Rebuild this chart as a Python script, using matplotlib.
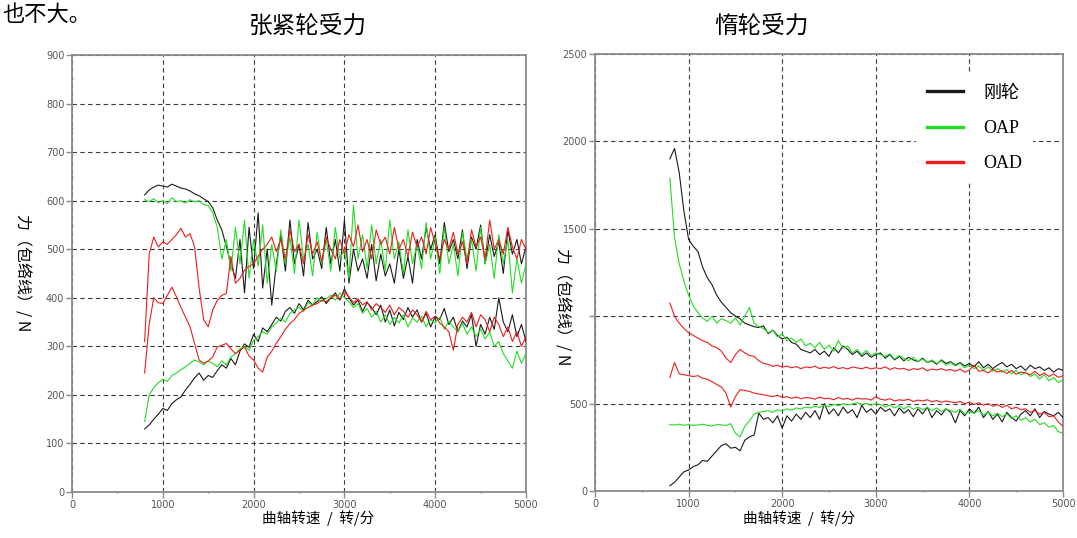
import numpy as np
import matplotlib
matplotlib.use("Agg")
import matplotlib.pyplot as plt
from matplotlib.ticker import MultipleLocator, FixedLocator
from matplotlib.lines import Line2D

plt.rcParams['font.family'] = ['DejaVu Sans', 'Noto Sans CJK SC']

# ---------------- data ----------------
rpm = np.arange(800, 5001, 50)  # shared speed grid (rev/min)

# Tensioner pulley force (left chart), upper / lower envelopes
tens_rigid_up = [612, 622, 628, 632, 630, 628, 634, 630, 626, 624, 620, 614, 610, 604, 598,
                 585, 560, 540, 505, 470, 440,
                 520, 410, 545, 460, 575, 420, 500, 385, 470,
                 530, 455, 560, 470, 510, 445, 555, 480, 500, 460, 545, 470, 520, 455, 560,
                 430, 500, 455, 480, 440, 510, 435, 490, 445, 470, 430, 500, 440, 485, 430,
                 520, 480, 545, 500, 530, 470, 555, 495, 520, 480, 540, 460, 525, 500, 550,
                 470, 530, 485, 515, 450, 540, 490, 520, 470, 505]
tens_rigid_lo = [130, 138, 150, 160, 172, 168, 182, 190, 196, 210, 222, 235, 245, 230, 240,
                 236, 250, 262, 255, 275, 262, 290, 305, 298, 325, 310, 338, 330, 345, 360,
                 352, 372, 380, 368, 388, 375, 395, 385, 392, 402, 388, 400, 410, 395, 418,
                 400, 385, 395, 372, 390, 380, 365, 385, 350, 375, 342, 370, 355, 380, 360,
                 375, 350, 368, 340, 362, 355, 378, 345, 360, 330, 352, 340, 365, 300, 345,
                 325, 360, 335, 400, 350, 330, 365, 320, 345, 310]
tens_oap_up = [602, 598, 604, 596, 600, 594, 606, 598, 600, 595, 602, 597, 600, 592, 590,
               575, 545, 480, 520, 455, 545, 470, 560, 440, 520, 465, 550, 430, 510, 455,
               540, 470, 525, 450, 560, 480, 510, 445, 535, 470, 520, 455, 545, 480, 500,
               440, 590, 480, 530, 460, 550, 470, 520, 455, 560, 480, 515, 450, 540, 470,
               510, 460, 555, 480, 525, 450, 545, 470, 510, 445, 535, 480, 520, 455, 545,
               470, 510, 440, 530, 470, 520, 410, 480, 430, 470]
tens_oap_lo = [145, 200, 215, 225, 232, 228, 240, 245, 252, 258, 265, 272, 268, 262, 270,
               265, 258, 270, 262, 278, 285, 295, 300, 292, 312, 320, 330, 325, 340, 348,
               358, 350, 368, 375, 380, 372, 390, 385, 400, 392, 398, 405, 395, 410, 400,
               392, 380, 388, 368, 378, 360, 372, 350, 365, 345, 360, 348, 365, 340, 358,
               350, 362, 340, 355, 348, 360, 335, 352, 340, 330, 348, 325, 340, 320, 335,
               315, 330, 300, 310, 285, 270, 255, 290, 265, 285]
tens_oad_up = [310, 490, 525, 505, 515, 510, 520, 530, 543, 525, 532, 505, 420, 355, 340,
               375, 395, 405, 409, 485, 430, 440, 457, 465, 470, 485, 500, 510, 525, 495,
               520, 480, 540, 495, 510, 470, 530, 490, 515, 475, 525, 500, 480, 520, 490,
               530, 505, 550, 495, 520, 480, 540, 510, 525, 490, 545, 500, 520, 485, 535,
               505, 525, 490, 545, 510, 480, 520, 500, 535, 490, 515, 470, 540, 505, 525,
               480, 560, 500, 520, 490, 545, 505, 480, 520, 500]
tens_oad_lo = [245, 345, 400, 390, 388, 405, 422, 402, 380, 360, 340, 306, 272, 265, 270,
               278, 299, 302, 306, 295, 285, 292, 299, 280, 272, 255, 247, 278, 290, 306,
               320, 335, 347, 355, 368, 374, 380, 385, 388, 395, 392, 400, 405, 398, 412,
               402, 390, 398, 385, 392, 375, 388, 380, 370, 385, 365, 380, 372, 360, 375,
               365, 350, 372, 355, 362, 348, 340, 330, 292, 345, 360, 350, 370, 340, 365,
               355, 330, 360, 345, 320, 340, 310, 330, 300, 320]

# Idler pulley force (right chart)
idl_rigid_up = [1900, 1960, 1820, 1600, 1440, 1400, 1370, 1280, 1220, 1180, 1120, 1080, 1050, 1020, 1000,
                985, 960, 950, 940, 935, 945, 900, 920, 890, 870, 880, 850, 840, 810, 800,
                790, 810, 780, 800, 770, 820, 790, 830, 810, 780, 800, 770, 790, 765, 780,
                790, 760, 780, 750, 770, 745, 765, 750, 740, 760, 735, 745, 725, 750, 730,
                740, 720, 735, 715, 730, 710, 740, 705, 725, 700, 720, 735, 710, 725, 700,
                715, 690, 720, 700, 710, 690, 705, 680, 700, 690]
idl_rigid_lo = [30, 50, 80, 110, 120, 140, 150, 175, 170, 200, 230, 260, 270, 245, 250,
                230, 290, 310, 320, 445, 410, 420, 390, 430, 360, 430, 400, 440, 410, 450,
                420, 460, 410, 500, 440, 470, 430, 480, 445, 465, 420, 490, 450, 470, 440,
                480, 455, 470, 430, 475, 445, 465, 425, 470, 440, 480, 420, 460, 435, 470,
                450, 390, 460, 430, 470, 445, 480, 420, 455, 410, 440, 395, 450, 420, 400,
                440, 460, 430, 470, 420, 455, 440, 430, 450, 420]
idl_oap_up = [1790, 1450, 1300, 1200, 1120, 1060, 1020, 990, 970, 1000, 960, 985, 975, 960, 990,
              950, 1000, 1050, 960, 940, 930, 905, 920, 880, 900, 860, 875, 850, 870, 830,
              845, 820, 850, 810, 835, 800, 860, 815, 830, 790, 810, 780, 805, 775, 790,
              780, 770, 785, 755, 775, 760, 745, 765, 740, 755, 735, 750, 730, 745, 720,
              735, 715, 730, 705, 720, 700, 715, 690, 710, 685, 700, 680, 695, 670, 690,
              665, 680, 655, 670, 640, 665, 630, 650, 620, 640]
idl_oap_lo = [380, 378, 382, 376, 380, 375, 378, 382, 376, 372, 380, 378, 375, 385, 330,
              310, 370, 400, 440, 450, 455, 460, 450, 465, 458, 470, 462, 475, 470, 480,
              475, 485, 478, 490, 482, 495, 488, 500, 492, 498, 505, 495, 502, 490, 500,
              495, 480, 492, 475, 488, 470, 485, 468, 480, 465, 478, 460, 475, 455, 470,
              460, 450, 468, 440, 455, 445, 460, 435, 450, 430, 445, 425, 440, 415, 430,
              405, 420, 395, 410, 380, 390, 365, 375, 340, 330]
idl_oad_up = [1075, 1000, 960, 930, 905, 890, 875, 860, 850, 830, 820, 800, 760, 735, 780,
              810, 790, 775, 770, 745, 730, 725, 713, 720, 708, 715, 705, 712, 700, 710,
              705, 715, 700, 708, 702, 712, 700, 706, 698, 710, 704, 700, 708, 698, 705,
              700, 710, 695, 705, 698, 702, 690, 700, 695, 705, 688, 698, 692, 700, 690,
              695, 685, 698, 680, 692, 720, 685, 690, 675, 695, 680, 688, 672, 690, 668,
              680, 675, 665, 685, 660, 675, 655, 670, 650, 660]
idl_oad_lo = [650, 735, 670, 665, 660, 655, 660, 645, 640, 625, 610, 595, 560, 480, 540,
              580, 575, 570, 560, 555, 550, 545, 540, 548, 535, 540, 530, 538, 528, 535,
              532, 525, 538, 528, 530, 522, 535, 525, 530, 520, 532, 526, 528, 520, 540,
              525, 520, 528, 515, 522, 518, 525, 512, 520, 515, 522, 510, 518, 508, 515,
              510, 505, 512, 500, 508, 495, 505, 490, 500, 485, 495, 478, 490, 470, 480,
              465, 470, 450, 460, 440, 450, 425, 430, 395, 370]

series_names = ['刚轮', 'OAP', 'OAD']
series_colors = ['#1a1a1a', '#22dd22', '#ee1c1c']

left_title = '张紧轮受力'
right_title = '惰轮受力'
top_note = '也不大。'
y_label = '力（包络线）/ N'
x_label = '曲轴转速  /  转/分'
x_ticks = [0, 1000, 2000, 3000, 4000, 5000]
left_yticks = [0, 100, 200, 300, 400, 500, 600, 700, 800, 900]
right_yticks = [0, 500, 1000, 1500, 2000, 2500]
right_ytick_labels = ['0', '500', '', '1500', '2000', '2500']

# ---------------- figure ----------------
W, H = 1077, 538
fig = plt.figure(figsize=(W / 100, H / 100), dpi=100)

ax1 = fig.add_axes([72 / W, 1 - 492 / H, (526 - 72) / W, (492 - 55) / H])
ax2 = fig.add_axes([595 / W, 1 - 491 / H, (1063 - 595) / W, (491 - 54) / H])

spine_col = '#8a8a8a'
grid_col = '#3a3a3a'
tick_col = '#555555'

def style(ax, ymax, yticks, yminor):
    ax.set_xlim(0, 5000)
    ax.set_ylim(0, ymax)
    ax.xaxis.set_major_locator(FixedLocator(x_ticks))
    ax.xaxis.set_minor_locator(MultipleLocator(500))
    ax.yaxis.set_major_locator(FixedLocator(yticks))
    ax.yaxis.set_minor_locator(MultipleLocator(yminor))
    for s in ax.spines.values():
        s.set_color(spine_col)
        s.set_linewidth(1.3)
    ax.tick_params(axis='both', which='major', length=4, width=1, color=spine_col,
                   labelsize=7, labelcolor=tick_col, direction='out', pad=1.5)
    ax.tick_params(axis='both', which='minor', length=2, width=1, color=spine_col,
                   direction='inout')
    ax.grid(True, which='major', color=grid_col, linestyle=(0, (4, 3)), linewidth=0.8)
    ax.set_axisbelow(True)

def draw(ax, ups, los):
    for up, lo, c in zip(ups, los, series_colors):
        ax.plot(rpm, up, color=c, lw=0.8, zorder=3)
        ax.plot(rpm, lo, color=c, lw=0.8, zorder=3)

draw(ax1, [tens_rigid_up, tens_oap_up, tens_oad_up], [tens_rigid_lo, tens_oap_lo, tens_oad_lo])
draw(ax2, [idl_rigid_up, idl_oap_up, idl_oad_up], [idl_rigid_lo, idl_oap_lo, idl_oad_lo])

style(ax1, 900, left_yticks, 50)
style(ax2, 2500, right_yticks, 250)
ax2.set_yticklabels(right_ytick_labels)

# legend (right chart)
handles = [Line2D([], [], color=c, lw=2.4) for c in series_colors]
leg = ax2.legend(handles, series_names, loc='upper right', bbox_to_anchor=(0.955, 0.975),
                 frameon=True, facecolor='white', edgecolor='none', framealpha=1,
                 prop={'family': ['Liberation Serif', 'Noto Sans CJK SC'], 'size': 13},
                 handlelength=2.0, handletextpad=1.1, labelspacing=1.0, borderpad=0.6)
leg.set_zorder(5)

# titles
cjk = ['Noto Sans CJK SC', 'DejaVu Sans']
fig.text(308 / W, 1 - 26 / H, left_title, ha='center', va='center', fontsize=17, family=cjk)
fig.text(762 / W, 1 - 26 / H, right_title, ha='center', va='center', fontsize=17, family=cjk)
fig.text(2 / W, 1 - 14 / H, top_note, ha='left', va='center', fontsize=16, family=cjk)

# axis labels
fig.text(318 / W, 1 - 518 / H, x_label, ha='center', va='center', fontsize=10.5, family=cjk)
fig.text(799 / W, 1 - 518 / H, x_label, ha='center', va='center', fontsize=10.5, family=cjk)
fig.text(22 / W, 1 - 273 / H, y_label, ha='center', va='center', rotation=270, fontsize=11.5, family=cjk)
fig.text(562 / W, 1 - 307 / H, y_label, ha='center', va='center', rotation=270, fontsize=11.5, family=cjk)

fig.savefig('out.png', dpi=100)
